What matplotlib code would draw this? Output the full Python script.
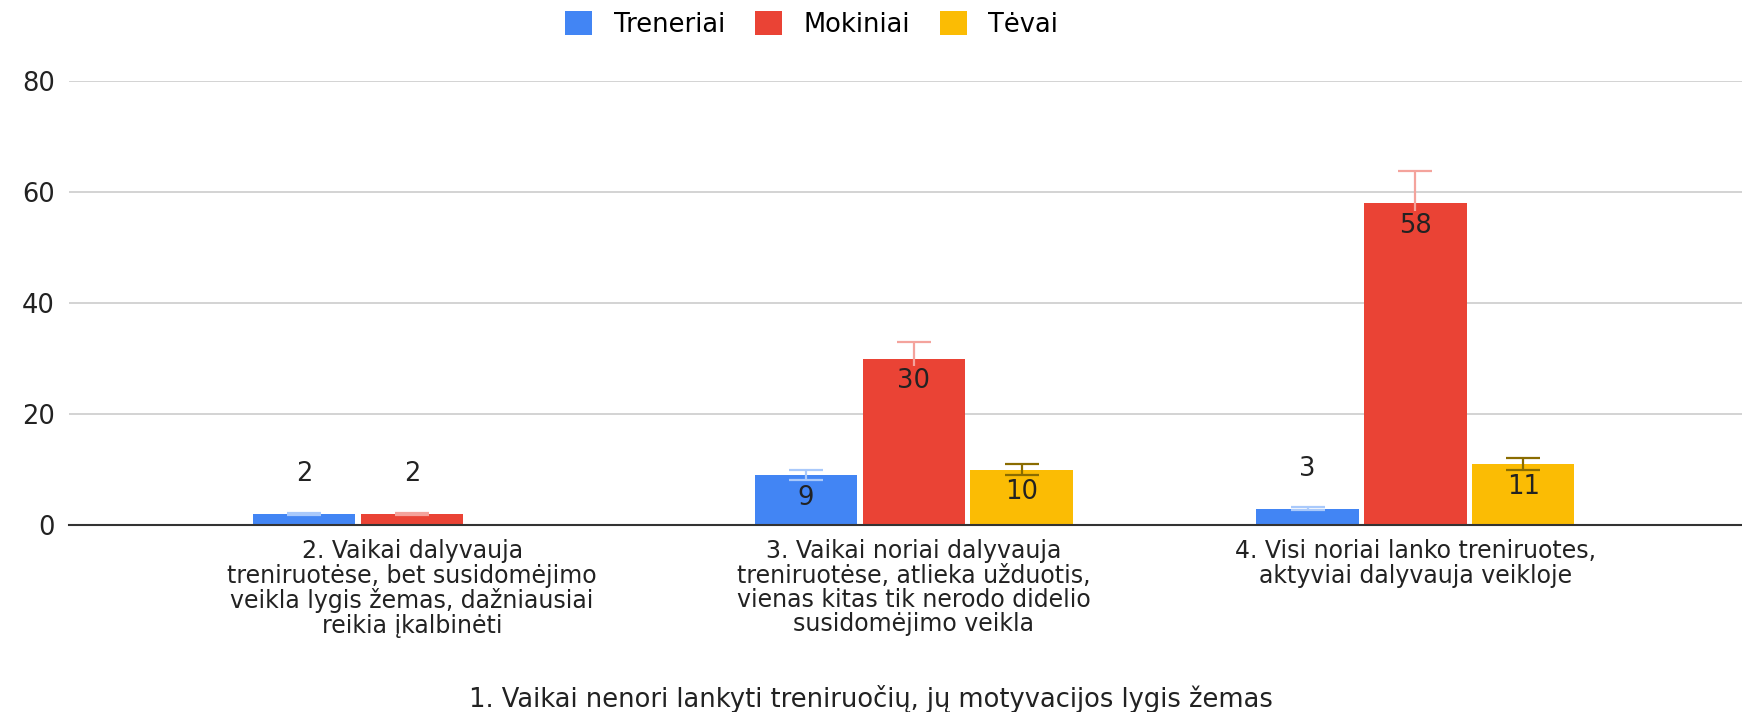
import matplotlib
matplotlib.use("Agg")
import matplotlib.pyplot as plt
import numpy as np

plt.rcParams['font.family'] = ['DejaVu Sans']

categories = ['2. Vaikai dalyvauja\ntreniruotėse, bet susidomėjimo\nveikla lygis žemas, dažniausiai\nreikia įkalbinėti',
              '3. Vaikai noriai dalyvauja\ntreniruotėse, atlieka užduotis,\nvienas kitas tik nerodo didelio\nsusidomėjimo veikla',
              '4. Visi noriai lanko treniruotes,\naktyviai dalyvauja veikloje']
series_names = ['Treneriai', 'Mokiniai', 'Tėvai']
treneriai = [2, 9, 3]
mokiniai = [2, 30, 58]
tevai = [np.nan, 10, 11]
# error bar sizes (about 10% of the value)
treneriai_err = [0.2, 0.9, 0.3]
mokiniai_err = [0.2, 3.0, 5.8]
tevai_err = [0, 1.0, 1.1]
yticks = [0, 20, 40, 60, 80]
xtitle = '1. Vaikai nenori lankyti treniruočių, jų motyvacijos lygis žemas'

colors = ['#4285F4', '#EA4335', '#FBBC04']
err_colors = ['#a9c9fb', '#f4a39c', '#8a6c00']
FS = 18.5

fig = plt.figure(figsize=(17.42, 7.12), dpi=100)
ax = fig.add_axes([0.0396, 0.262, 0.9604, 0.624])

x = np.arange(len(categories))
w = 0.204
step = 0.215
values = [treneriai, mokiniai, tevai]
errs = [treneriai_err, mokiniai_err, tevai_err]

for i, (vals, er) in enumerate(zip(values, errs)):
    pos = x + (i - 1) * step
    ax.bar(pos, vals, width=w, color=colors[i], label=series_names[i], zorder=2)
    ax.errorbar(pos, vals, yerr=er, fmt='none', ecolor=err_colors[i],
                elinewidth=1.6, capsize=12, capthick=1.6, zorder=3)
    for p, v in zip(pos, vals):
        if np.isnan(v):
            continue
        if v >= 8:
            ax.annotate(f'{v:g}', (p, v), xytext=(0, -16), textcoords='offset points',
                        ha='center', va='center', fontsize=FS, color='#222222', zorder=4,
                        bbox=dict(facecolor=colors[i], edgecolor='none', pad=1.5))
        else:
            ax.annotate(f'{v:g}', (p, v), xytext=(0, 29), textcoords='offset points',
                        ha='center', va='center', fontsize=FS, color='#222222', zorder=4)

ax.set_xlim(-0.684, 2.651)
ax.set_ylim(0, 80)
ax.set_yticks(yticks)
ax.set_xticks(x)
ax.set_xticklabels(categories, fontsize=17, linespacing=1.02, color='#222222')
ax.tick_params(axis='y', length=0, labelsize=FS, colors='#222222', pad=10)
ax.tick_params(axis='x', length=0, colors='#222222', pad=10)
ax.yaxis.grid(True, color='#cccccc', linewidth=1.2, zorder=0)
ax.set_axisbelow(True)
for s in ['top', 'right', 'left']:
    ax.spines[s].set_visible(False)
ax.spines['bottom'].set_color('#333333')
ax.spines['bottom'].set_linewidth(1.5)
ax.spines['bottom'].set_zorder(5)

fig.text(0.5, 0.018, xtitle, ha='center', va='center', fontsize=FS, color='#222222')

fig.legend(loc='center', bbox_to_anchor=(0.466, 0.966), ncol=3, frameon=False,
           fontsize=FS, handlelength=1.05, handleheight=1.05, handletextpad=0.85,
           columnspacing=1.15)

fig.savefig('out.png', dpi=100)
